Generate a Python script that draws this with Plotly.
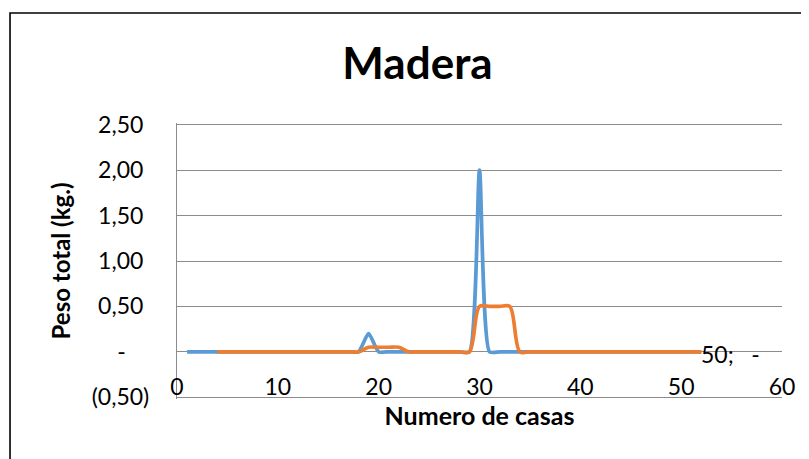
import plotly.graph_objects as go

# Data
casas = list(range(1, 53))
peso = [0.0] * 52
peso[19 - 1] = 0.20
peso[30 - 1] = 2.00

media_x = list(range(4, 53))
media_y = ([0.0] * 15 + [0.05, 0.05, 0.05, 0.05] + [0.0] * 7
           + [0.5, 0.5, 0.5, 0.5] + [0.0] * 19)

y_ticks = [-0.5, 0.0, 0.5, 1.0, 1.5, 2.0, 2.5]
y_ticktext = ["(0,50)", "-\u00a0\u00a0\u00a0\u00a0", "0,50\u00a0", "1,00\u00a0",
              "1,50\u00a0", "2,00\u00a0", "2,50\u00a0"]
x_ticks = [0, 10, 20, 30, 40, 50, 60]
label_text = "50;\u00a0\u00a0\u00a0-"

FONT = "Lato"
GRID = "#8c8c8c"

fig = go.Figure()
fig.add_trace(go.Scatter(x=casas, y=peso, mode="lines",
                         line=dict(color="#5B9BD5", width=3.7, shape="spline", smoothing=0.6),
                         showlegend=False, hoverinfo="skip"))
fig.add_trace(go.Scatter(x=media_x, y=media_y, mode="lines",
                         line=dict(color="#ED7D31", width=3.7, shape="spline", smoothing=0.9),
                         showlegend=False, hoverinfo="skip"))

fig.add_annotation(x=media_x[-1], y=media_y[-1], xref="x", yref="y",
                   text=label_text, showarrow=False, xanchor="left", yanchor="middle",
                   xshift=-2, yshift=-2,
                   font=dict(family=FONT, size=23, color="#000000"))

fig.add_shape(type="rect", xref="paper", yref="paper",
              x0=-0.276, x1=1.2, y0=-0.4, y1=1.3986,
              line=dict(color="#000000", width=1.6), layer="below")

fig.update_layout(
    width=801, height=451,
    margin=dict(l=169, r=27, t=115, b=60),
    paper_bgcolor="white", plot_bgcolor="white",
    font=dict(family=FONT, color="#000000"),
    title=dict(text="<b>Madera</b>", x=0.3975, xref="paper", xanchor="center",
               y=1 - 56 / 451, yref="container", yanchor="middle",
               font=dict(family=FONT, size=44, color="#000000")),
    xaxis=dict(range=[0, 60], tickvals=x_ticks, showgrid=False, zeroline=False,
               showline=False, ticks="", anchor="free", position=0.101,
               tickfont=dict(family=FONT, size=23, color="#000000"),
               title=dict(text="<b>Numero de casas</b>", standoff=6,
                          font=dict(family=FONT, size=25, color="#000000"))),
    yaxis=dict(range=[-0.52, 2.52], tickvals=y_ticks, ticktext=y_ticktext,
               showgrid=True, gridcolor=GRID, gridwidth=1.3,
               zeroline=True, zerolinecolor=GRID, zerolinewidth=1.3,
               showline=True, linecolor=GRID, linewidth=1.3, ticks="",
               ticklabelstandoff=22,
               tickfont=dict(family=FONT, size=23, color="#000000"),
               title=dict(text="<b>Peso total (kg.)</b>", standoff=14,
                          font=dict(family=FONT, size=24, color="#000000"))),
)

fig.write_html("out.html")
